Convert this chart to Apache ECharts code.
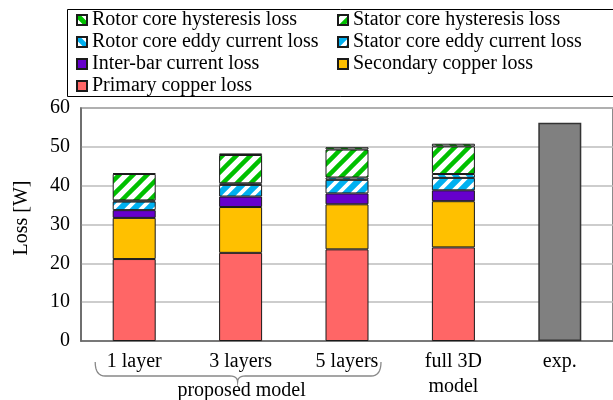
<!DOCTYPE html>
<html>
<head>
<meta charset="utf-8">
<script src="https://cdn.jsdelivr.net/npm/echarts@6/dist/echarts.min.js"></script>
<style>html,body{margin:0;padding:0;background:#fff}#c{width:613px;height:400px}</style>
</head>
<body>
<div id="c"></div>
<script>
const categories = ['1 layer', '3 layers', '5 layers', 'full 3D\nmodel', 'exp.'];
const primaryCopper   = [21.1, 22.7, 23.6, 24.1, '-'];
const secondaryCopper = [10.6, 11.8, 11.6, 11.9, '-'];
const interBar        = [2.0, 2.7, 2.8, 2.8, '-'];
const statorEddy      = [2.2, 3.0, 3.5, 3.2, '-'];
const rotorEddy       = [0.3, 0.4, 0.6, 1.0, '-'];
const statorHyst      = [6.8, 7.3, 7.2, 7.1, '-'];
const rotorHyst       = [0.2, 0.4, 0.6, 0.7, '-'];
const experiment      = ['-', '-', '-', '-', 56.2];
const yTicks = [0, 10, 20, 30, 40, 50, 60];

const FONT = 'Liberation Serif';

function makePattern(base, stripe, dir, frac) {
  const s = 14;
  const c = document.createElement('canvas');
  c.width = s; c.height = s;
  const ctx = c.getContext('2d');
  ctx.fillStyle = base; ctx.fillRect(0, 0, s, s);
  ctx.strokeStyle = stripe;
  ctx.lineWidth = frac * s / Math.SQRT2;
  ctx.lineCap = 'square';
  ctx.beginPath();
  if (dir === '/') {
    ctx.moveTo(-2, 2); ctx.lineTo(2, -2);
    ctx.moveTo(-1, s + 1); ctx.lineTo(s + 1, -1);
    ctx.moveTo(s - 2, s + 2); ctx.lineTo(s + 2, s - 2);
  } else {
    ctx.moveTo(-1, -1); ctx.lineTo(s + 1, s + 1);
    ctx.moveTo(-2, s - 2); ctx.lineTo(2, s + 2);
    ctx.moveTo(s - 2, -2); ctx.lineTo(s + 2, 2);
  }
  ctx.stroke();
  return { image: c, repeat: 'repeat' };
}

const GREEN = '#00c000', BLUE = '#00b0f0';
const border = { borderColor: '#1a1a1a', borderWidth: 1 };

function bar(name, data, color) {
  return {
    name, type: 'bar', stack: 'loss', data, barWidth: 43,
    itemStyle: Object.assign({ color }, border),
    emphasis: { disabled: true }
  };
}

const chart = echarts.init(document.getElementById('c'), null, { renderer: 'canvas' });

const legendText = { fontFamily: FONT, fontSize: 20, color: '#000', lineHeight: 22 };

const option = {
  animation: false,
  backgroundColor: '#fff',
  textStyle: { fontFamily: FONT },
  grid: { left: 81, top: 108, width: 535.5, bottom: 59, show: true, borderColor: '#666', borderWidth: 1.5, backgroundColor: 'transparent' },
  legend: [
    {
      orient: 'vertical', left: 76, top: 9, padding: 0, itemWidth: 10, itemHeight: 10, itemGap: 0, icon: 'rect',
      textStyle: legendText, selectedMode: false,
      data: ['Rotor core hysteresis loss', 'Rotor core eddy current loss', 'Inter-bar current loss', 'Primary copper loss']
    },
    {
      orient: 'vertical', left: 337, top: 9, padding: 0, itemWidth: 10, itemHeight: 10, itemGap: 0, icon: 'rect',
      textStyle: legendText, selectedMode: false,
      data: ['Stator core hysteresis loss', 'Stator core eddy current loss', 'Secondary copper loss']
    }
  ],
  xAxis: {
    type: 'category', data: categories,
    axisLine: { lineStyle: { color: '#666', width: 1.5 } },
    axisTick: { show: false },
    axisLabel: { fontFamily: FONT, fontSize: 20, color: '#000', lineHeight: 25, margin: 8, interval: 0 }
  },
  yAxis: {
    type: 'value', min: yTicks[0], max: yTicks[yTicks.length - 1], interval: 10,
    axisLine: { show: true, lineStyle: { color: '#666', width: 1.5 } },
    axisTick: { show: false },
    axisLabel: { fontFamily: FONT, fontSize: 20, color: '#000', margin: 11 },
    splitLine: { lineStyle: { color: '#bdbdbd', width: 1.5 } }
  },
  series: [
    bar('Primary copper loss', primaryCopper, '#ff6666'),
    bar('Secondary copper loss', secondaryCopper, '#ffc000'),
    bar('Inter-bar current loss', interBar, '#6600cc'),
    bar('Stator core eddy current loss', statorEddy, makePattern(BLUE, '#ffffff', '/', 0.38)),
    bar('Rotor core eddy current loss', rotorEddy, makePattern('#ffffff', BLUE, '\\', 0.5)),
    bar('Stator core hysteresis loss', statorHyst, makePattern('#ffffff', GREEN, '/', 0.45)),
    bar('Rotor core hysteresis loss', rotorHyst, makePattern('#ffffff', GREEN, '\\', 0.5)),
    {
      name: 'exp.', type: 'bar', stack: 'loss', data: experiment, barWidth: 43,
      itemStyle: { color: '#808080', borderColor: '#333', borderWidth: 1.5 },
      emphasis: { disabled: true }
    }
  ]
};
chart.setOption(option);

// annotation: legend frame, y-axis title and brace under the proposed-model categories
const x1 = chart.convertToPixel({ xAxisIndex: 0 }, categories[0]);
const x2 = chart.convertToPixel({ xAxisIndex: 0 }, categories[1]);
const x3 = chart.convertToPixel({ xAxisIndex: 0 }, categories[2]);
const bl = x1 - 39, br = x3 + 34, bm = x2 - 3;
const yTop = 362, yH = 376, yTip = 382;

function quad(p0, c, p1, n) {
  const pts = [];
  for (let i = 0; i <= n; i++) {
    const t = i / n, u = 1 - t;
    pts.push([u * u * p0[0] + 2 * u * t * c[0] + t * t * p1[0], u * u * p0[1] + 2 * u * t * c[1] + t * t * p1[1]]);
  }
  return pts;
}
const bracePts = [].concat(
  quad([bl, yTop], [bl, yH], [bl + 10, yH], 8),
  quad([bm - 8, yH], [bm, yH], [bm, yTip], 6),
  quad([bm, yTip], [bm, yH], [bm + 8, yH], 6),
  quad([br - 10, yH], [br, yH], [br, yTop], 8)
);

chart.setOption({
  graphic: [
    { type: 'rect', shape: { x: 67.5, y: 9.5, width: 580, height: 87 }, style: { fill: 'none', stroke: '#000', lineWidth: 1 }, z: 100 },
    { type: 'polyline', shape: { points: bracePts }, style: { fill: 'none', stroke: '#888', lineWidth: 1.3 }, z: 100 },
    { type: 'text', x: bm + 4, y: 391, style: { text: 'proposed model', font: `20px "${FONT}"`, fill: '#000', align: 'center', verticalAlign: 'middle' }, z: 100 },
    { type: 'text', x: 22, y: 218, rotation: Math.PI / 2, style: { text: 'Loss [W]', font: `20px "${FONT}"`, fill: '#000', align: 'center', verticalAlign: 'middle' }, z: 100 }
  ]
});
</script>
</body>
</html>
